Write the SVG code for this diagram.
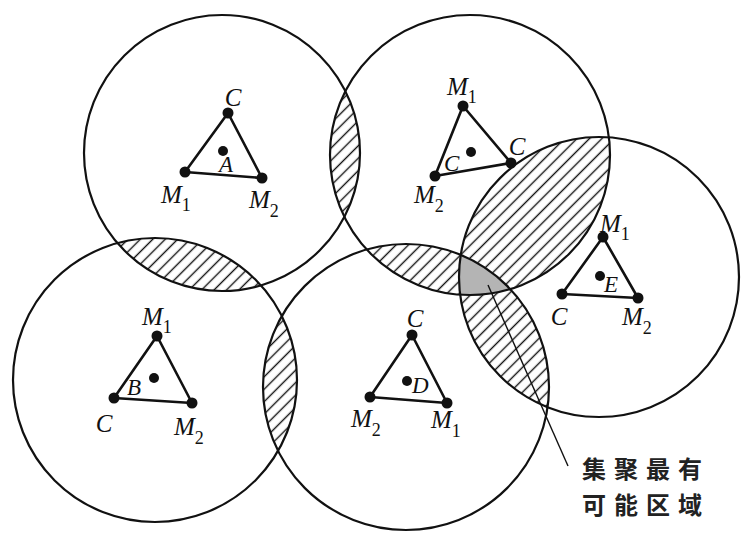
<svg xmlns="http://www.w3.org/2000/svg" width="756" height="535" viewBox="0 0 756 535">
<style>
.circ{fill:none;stroke:#111;stroke-width:2.2}
.tri{fill:none;stroke:#111;stroke-width:2.6;stroke-linejoin:round}
.dot{fill:#111}
.lbl{font-family:"Liberation Serif","Times New Roman",serif;font-style:italic;font-size:25px;fill:#111}
.clbl{font-family:"Liberation Serif","Times New Roman",serif;font-style:italic;font-size:23px;fill:#111}
.sub{font-style:normal;font-size:18px}
.hatch{fill:url(#hatch)}
.cn{font-family:"Noto Sans CJK SC","Noto Sans CJK JP",sans-serif;font-weight:bold;font-size:24px;letter-spacing:8px;fill:#222}
</style>
<defs>
<pattern id="hatch" patternUnits="userSpaceOnUse" width="8.8" height="8" patternTransform="rotate(45)">
<line x1="4.4" y1="-1" x2="4.4" y2="9" stroke="#111" stroke-width="1.4"/>
</pattern>
<clipPath id="cA"><circle cx="222" cy="153" r="138"/></clipPath>
<clipPath id="cT"><circle cx="470" cy="155" r="140"/></clipPath>
<clipPath id="cB"><circle cx="155" cy="380" r="142"/></clipPath>
<clipPath id="cD"><circle cx="406" cy="387" r="143"/></clipPath>
<clipPath id="cE"><circle cx="599" cy="277" r="140"/></clipPath>
</defs>
<rect width="756" height="535" fill="#fff"/>
<g id="regions">
<circle class="hatch" cx="222" cy="153" r="138" clip-path="url(#cT)"/>
<circle class="hatch" cx="222" cy="153" r="138" clip-path="url(#cB)"/>
<circle class="hatch" cx="155" cy="380" r="142" clip-path="url(#cD)"/>
<circle class="hatch" cx="470" cy="155" r="140" clip-path="url(#cD)"/>
<circle class="hatch" cx="470" cy="155" r="140" clip-path="url(#cE)"/>
<circle class="hatch" cx="406" cy="387" r="143" clip-path="url(#cE)"/>
<g clip-path="url(#cD)"><circle cx="599" cy="277" r="140" fill="#b4b4b4" clip-path="url(#cT)"/></g>
</g>
<g id="nodeA">
<circle class="circ" cx="222" cy="153" r="138"/>
<polygon class="tri" points="228,113 185,172 262,178"/>
<circle class="dot" cx="228" cy="113" r="5.5"/><circle class="dot" cx="185" cy="172" r="5.5"/><circle class="dot" cx="262" cy="178" r="5.5"/>
<circle class="dot" cx="223" cy="151" r="5"/>
<text class="lbl" x="233" y="106" text-anchor="middle">C</text>
<text class="clbl" x="219" y="172">A</text>
<text class="lbl" x="161" y="203">M<tspan class="sub" dy="8">1</tspan></text>
<text class="lbl" x="249" y="208">M<tspan class="sub" dy="9">2</tspan></text>
</g>
<g id="nodeC">
<circle class="circ" cx="470" cy="155" r="140"/>
<polygon class="tri" points="463,106 435,176 511,163"/>
<circle class="dot" cx="463" cy="106" r="5.5"/><circle class="dot" cx="435" cy="176" r="5.5"/><circle class="dot" cx="511" cy="163" r="5.5"/>
<circle class="dot" cx="471" cy="152" r="5"/>
<text class="lbl" x="447" y="95">M<tspan class="sub" dy="8">1</tspan></text>
<text class="lbl" x="517" y="155" text-anchor="middle">C</text>
<text class="clbl" x="444" y="171">C</text>
<text class="lbl" x="414" y="203">M<tspan class="sub" dy="9">2</tspan></text>
</g>
<g id="nodeE">
<circle class="circ" cx="599" cy="277" r="140"/>
<polygon class="tri" points="603,237 562,294 638,298"/>
<circle class="dot" cx="603" cy="237" r="5.5"/><circle class="dot" cx="562" cy="294" r="5.5"/><circle class="dot" cx="638" cy="298" r="5.5"/>
<circle class="dot" cx="600" cy="276" r="5"/>
<text class="lbl" x="600" y="232">M<tspan class="sub" dy="8">1</tspan></text>
<text class="clbl" x="604" y="292">E</text>
<text class="lbl" x="559" y="325" text-anchor="middle">C</text>
<text class="lbl" x="622" y="325">M<tspan class="sub" dy="9">2</tspan></text>
</g>
<g id="nodeB">
<circle class="circ" cx="155" cy="380" r="142"/>
<polygon class="tri" points="157,336 114,398 192,403"/>
<circle class="dot" cx="157" cy="336" r="5.5"/><circle class="dot" cx="114" cy="398" r="5.5"/><circle class="dot" cx="192" cy="403" r="5.5"/>
<circle class="dot" cx="154" cy="378" r="5"/>
<text class="lbl" x="142" y="325">M<tspan class="sub" dy="8">1</tspan></text>
<text class="clbl" x="127" y="395">B</text>
<text class="lbl" x="104" y="432" text-anchor="middle">C</text>
<text class="lbl" x="174" y="435">M<tspan class="sub" dy="9">2</tspan></text>
</g>
<g id="nodeD">
<circle class="circ" cx="406" cy="387" r="143"/>
<polygon class="tri" points="412,335 370,397 447,403"/>
<circle class="dot" cx="412" cy="335" r="5.5"/><circle class="dot" cx="370" cy="397" r="5.5"/><circle class="dot" cx="447" cy="403" r="5.5"/>
<circle class="dot" cx="407" cy="381" r="5"/>
<text class="lbl" x="415" y="327" text-anchor="middle">C</text>
<text class="clbl" x="412" y="393">D</text>
<text class="lbl" x="351" y="427">M<tspan class="sub" dy="9">2</tspan></text>
<text class="lbl" x="431" y="428">M<tspan class="sub" dy="9">1</tspan></text>
</g>
<g id="connectors">
<line x1="488" y1="285" x2="568" y2="466" stroke="#111" stroke-width="1.4"/>
</g>
<g id="label">
<text class="cn" x="582" y="478">集聚最有</text>
<text class="cn" x="582" y="514">可能区域</text>
</g>
</svg>
